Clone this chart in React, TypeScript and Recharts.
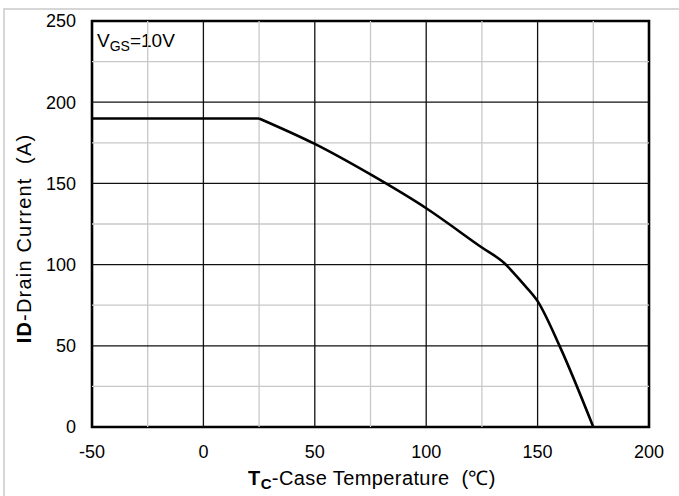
import React from "react";
import { LineChart, Line, XAxis, YAxis, ReferenceLine, ReferenceArea } from "recharts";

const flatTemps = [-50, 25];
const flatCurrents = [190, 190];
const curveTemps = [25, 50, 75, 100, 125, 135, 143, 150, 160, 175];
const curveCurrents = [190, 174.3, 155.5, 134.7, 110.5, 101, 89, 77.5, 49.5, 0];

const xTicks = [-50, 0, 50, 100, 150, 200];
const yTicks = [0, 50, 100, 150, 200, 250];
const xMinor = [-25, 25, 75, 125, 175];
const xMajor = [0, 50, 100, 150];
const yMinor = [25, 75, 125, 175, 225];
const yMajor = [50, 100, 150, 200];

const flatData = flatTemps.map((t, i) => ({ t, id: flatCurrents[i] }));
const curveData = curveTemps.map((t, i) => ({ t, id: curveCurrents[i] }));

const FONT = "'Liberation Sans', Arial, sans-serif";

const YTitle = () => (
  <text
    transform="translate(31,238.5) rotate(-90)"
    textAnchor="middle"
    fontFamily={FONT}
    fontSize={20}
    letterSpacing={1.2}
    fill="#000"
    style={{ whiteSpace: "pre" }}
  >
    <tspan fontWeight="bold">ID</tspan>
    <tspan>-Drain Current  (A)</tspan>
  </text>
);

const XTitle = () => (
  <text x={248} y={485} fontFamily={FONT} fontSize={20} letterSpacing={0.4} fill="#000" style={{ whiteSpace: "pre" }}>
    <tspan fontWeight="bold">T</tspan>
    <tspan fontWeight="bold" fontSize={15} dy={4}>C</tspan>
    <tspan dy={-4}>-Case Temperature  (℃)</tspan>
  </text>
);

export default function App() {
  return (
    <div style={{ position: "absolute", left: 0, top: 0, width: 679, height: 496, background: "#fff" }}>
      <div
        style={{
          position: "absolute",
          left: 3,
          top: 8,
          width: 700,
          height: 600,
          borderTop: "2px solid #d6d6d6",
          borderLeft: "2px solid #d6d6d6",
        }}
      />
      <div style={{ position: "absolute", left: 0, top: 0 }}>
        <LineChart
          width={679}
          height={496}
          margin={{ top: 21, right: 30, bottom: 0, left: 0 }}
          style={{ fontFamily: FONT }}
        >
          <XAxis
            dataKey="t"
            type="number"
            domain={[-50, 200]}
            ticks={xTicks}
            allowDataOverflow
            height={69}
            tickLine={false}
            axisLine={false}
            tickSize={0}
            tickMargin={18}
            tick={{ fontSize: 18, fill: "#000", fontFamily: FONT }}
          />
          <YAxis
            type="number"
            domain={[0, 250]}
            ticks={yTicks}
            allowDataOverflow
            width={92}
            tickLine={false}
            axisLine={false}
            tickSize={0}
            tickMargin={16}
            tick={{ fontSize: 18, fill: "#000", fontFamily: FONT }}
          />
          {xMinor.map((v) => (
            <ReferenceLine key={"xm" + v} x={v} stroke="#c8c8c8" strokeWidth={1.3} />
          ))}
          {yMinor.map((v) => (
            <ReferenceLine key={"ym" + v} y={v} stroke="#c8c8c8" strokeWidth={1.3} />
          ))}
          {xMajor.map((v) => (
            <ReferenceLine key={"xM" + v} x={v} stroke="#111" strokeWidth={1.3} />
          ))}
          {yMajor.map((v) => (
            <ReferenceLine key={"yM" + v} y={v} stroke="#111" strokeWidth={1.3} />
          ))}
          <ReferenceArea x1={-50} x2={200} y1={0} y2={250} fill="none" fillOpacity={0} stroke="#000" strokeWidth={2.6} />
          <Line
            data={flatData}
            type="linear"
            dataKey="id"
            stroke="#000"
            strokeWidth={2.6}
            dot={false}
            isAnimationActive={false}
          />
          <Line
            data={curveData}
            type="monotone"
            dataKey="id"
            stroke="#000"
            strokeWidth={2.6}
            dot={false}
            isAnimationActive={false}
          />
          <text x={97} y={47} fontFamily={FONT} fontSize={19} fill="#000">
            <tspan>V</tspan>
            <tspan fontSize={14} dy={4}>GS</tspan>
            <tspan dy={-4}>=10V</tspan>
          </text>
          <YTitle />
          <XTitle />
        </LineChart>
      </div>
    </div>
  );
}
